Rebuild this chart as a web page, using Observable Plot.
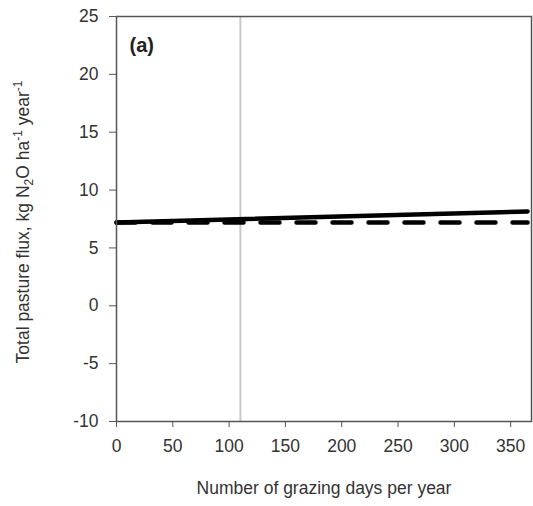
<!DOCTYPE html>
<html>
<head>
<meta charset="utf-8">
<script src="https://cdn.jsdelivr.net/npm/d3@7"></script>
<script src="https://cdn.jsdelivr.net/npm/@observablehq/plot@0.6"></script>
<style>
  html, body { margin: 0; padding: 0; background: #fff; }
  #chart { width: 533px; height: 506px; }
  svg text { font-family: "Liberation Sans Narrow", "Liberation Sans", Arial, sans-serif; }
</style>
</head>
<body>
<div id="chart"></div>
<script>
// Data
const days = [0, 365];
const withGrazing = [7.2, 8.15];     // solid line
const baseline = [7.2, 7.2];         // dashed line
const markerDay = [110];             // grey vertical line
const xTicks = [0, 50, 100, 150, 200, 250, 300, 350];
const yTicks = [-10, -5, 0, 5, 10, 15, 20, 25];
const panelLabel = "(a)";
const xLabel = "Number of grazing days per year";

const solidData = days.map((d, i) => ({x: d, y: withGrazing[i]}));
const dashData = days.map((d, i) => ({x: d, y: baseline[i]}));

const plot = Plot.plot({
  width: 533,
  height: 506,
  marginLeft: 116,
  marginRight: 2,
  marginTop: 16,
  marginBottom: 85,
  style: {fontFamily: '"Liberation Sans Narrow", "Liberation Sans", Arial, sans-serif', fontSize: "17px", color: "#333"},
  x: {domain: [0, 368.5]},
  y: {domain: [-10, 25]},
  marks: [
    Plot.ruleX(markerDay, {x: d => d, stroke: "#c8c8c8", strokeWidth: 2}),
    Plot.line(dashData, {x: "x", y: "y", stroke: "#000", strokeWidth: 4.5, strokeDasharray: "19,17"}),
    Plot.line(solidData, {x: "x", y: "y", stroke: "#000", strokeWidth: 4.5}),
    Plot.frame({stroke: "#555", strokeWidth: 1.5}),
    Plot.axisX({ticks: xTicks, tickSize: 6, tickPadding: 12, stroke: "#555", fill: "#333", fontSize: 17.5, label: null, tickFormat: d => String(d)}),
    Plot.axisY({ticks: yTicks, tickSize: 7, tickPadding: 11, stroke: "#555", fill: "#333", fontSize: 17.5, label: null, tickFormat: d => String(d)}),
    Plot.text([panelLabel], {frameAnchor: "top-left", dx: 13, dy: 21, text: d => d, fontWeight: "bold", fontSize: 20, fill: "#222", fontFamily: '"Liberation Sans", Arial, sans-serif'})
  ]
});

document.getElementById("chart").appendChild(plot);

const svg = d3.select(plot);
// X axis title
svg.append("text")
  .attr("x", 324).attr("y", 494)
  .attr("text-anchor", "middle")
  .attr("font-size", 17.5).attr("fill", "#333")
  .text(xLabel);

// Y axis title with sub/superscripts
const yt = svg.append("text")
  .attr("transform", "translate(29,222) rotate(-90)")
  .attr("text-anchor", "middle")
  .attr("font-size", 17.5).attr("fill", "#333");
yt.append("tspan").text("Total pasture flux, kg N");
yt.append("tspan").attr("font-size", 12).attr("dy", 4).text("2");
yt.append("tspan").attr("dy", -4).text("O ha");
yt.append("tspan").attr("font-size", 12).attr("dy", -7).text("-1");
yt.append("tspan").attr("dy", 7).text(" year");
yt.append("tspan").attr("font-size", 12).attr("dy", -7).text("-1");
</script>
</body>
</html>
